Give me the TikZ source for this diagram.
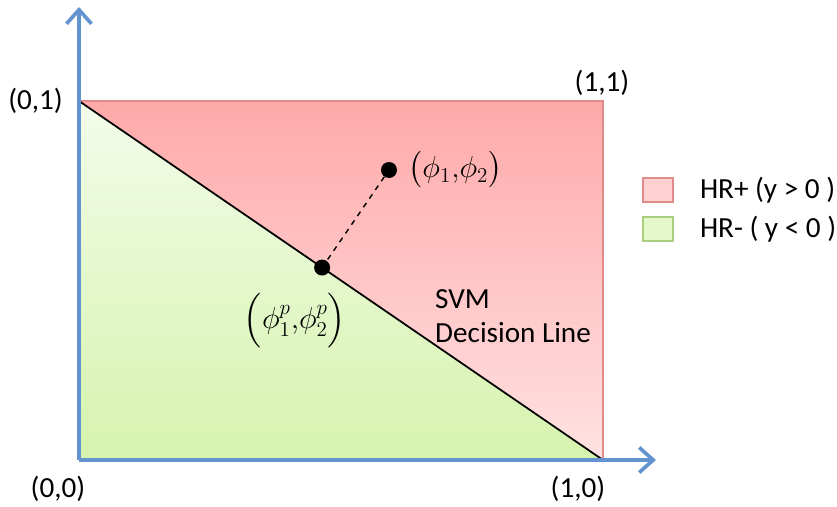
\documentclass[tikz,border=0pt]{standalone}
\usepackage{amsmath,fontspec}
\setmainfont{Carlito}
\usetikzlibrary{arrows.meta,positioning,calc}
\definecolor{Axis}{HTML}{6494D0}
\definecolor{PosTop}{HTML}{FFA9A9}
\definecolor{PosBot}{HTML}{FFE2E2}
\definecolor{PosEdge}{HTML}{E08A8A}
\definecolor{NegTop}{HTML}{F3FCEA}
\definecolor{NegBot}{HTML}{D6F3AE}
\definecolor{NegEdge}{HTML}{A9CF7E}
\tikzset{axis/.style={-{Straight Barb[length=2.8mm,width=5mm]},draw=Axis,line width=2.1pt},lab/.style={font=\fontsize{16.6}{19.5}\selectfont},dot/.style={circle,fill=black,inner sep=0pt,minimum size=3.2mm},keybox/.style={minimum width=6mm,minimum height=4.8mm,inner sep=0pt,line width=.9pt}}
\begin{document}
\begin{tikzpicture}
\useasboundingbox (-1.58,-0.92) rectangle (15.16,9.2);
\coordinate (O) at (0,0);
\coordinate (A) at (0,7.18);
\coordinate (C) at (10.48,7.18);
\coordinate (B) at (10.48,0);
% the two half planes
\shade[top color=PosTop,bottom color=PosBot] (A) -- (C) -- (B) -- cycle;
\shade[top color=NegTop,bottom color=NegBot] (O) -- (A) -- (B) -- cycle;
\draw[PosEdge,line width=.9pt] (A) -- (C) -- (B);
\draw[line width=1pt] (A) -- (B);
% axes
\draw[axis] (O) -- (0,9.06);
\draw[axis] (O) -- (11.54,0);
\node[lab,left=2mm of A] (l01) {(0,1)};
\node[lab] (l11) at (10.46,7.54) {(1,1)};
\node[lab] (l00) at (-0.42,-0.58) {(0,0)};
\node[lab] (l10) at (9.98,-0.58) {(1,0)};
% point and its projection
\node[dot] (pt) at (6.2,5.8) {};
\node[dot] (proj) at ($(A)!(pt)!(B)$) {};
\draw[dashed,line width=.8pt] (pt) -- (proj);
\node[lab,right=1mm of pt] (ptlab) {$\bigl(\phi_1{,}\phi_2\bigr)$};
\node[lab] (projlab) at (4.32,2.78) {$\Bigl(\phi_1^p{,}\phi_2^p\Bigr)$};
\node[lab,align=left,anchor=west] (svm) at (7.0,2.88) {SVM\\Decision Line};
% legend
\node[keybox,fill=PosBot!70!PosTop,draw=PosEdge] (kpos) at (11.58,5.4) {};
\node[keybox,fill=NegTop!50!NegBot,draw=NegEdge] (kneg) at (11.58,4.62) {};
\node[lab,right=4mm of kpos] (tpos) {HR+ (y > 0 )};
\node[lab,right=4mm of kneg] (tneg) {HR- ( y < 0 )};
\end{tikzpicture}
\end{document}
